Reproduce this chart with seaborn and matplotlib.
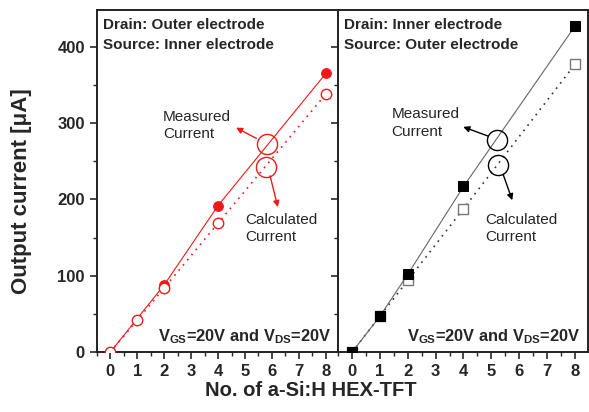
import matplotlib
matplotlib.use("Agg")
import matplotlib.pyplot as plt
import seaborn as sns
from matplotlib.ticker import MultipleLocator

sns.set_style("ticks")
plt.rcParams['font.family'] = ['Liberation Sans', 'DejaVu Sans']
plt.rcParams['mathtext.fontset'] = 'custom'
plt.rcParams['mathtext.rm'] = 'Liberation Sans:bold'
plt.rcParams['mathtext.bf'] = 'Liberation Sans:bold'
plt.rcParams['mathtext.it'] = 'Liberation Sans:bold'

# ---- data ----
left_meas_x = [0, 2, 4, 8]
left_meas_y = [0, 88, 192, 365]
left_calc_x = [0, 1, 2, 4, 8]
left_calc_y = [0, 42, 84, 169, 338]

right_meas_x = [0, 1, 2, 4, 8]
right_meas_y = [0, 47, 102, 217, 427]
right_calc_x = [0, 1, 2, 4, 8]
right_calc_y = [0, 47, 94, 188, 377]

x_ticks = [0, 1, 2, 3, 4, 5, 6, 7, 8]
y_ticks = [0, 100, 200, 300, 400]

titles_left = ["Drain: Outer electrode", "Source: Inner electrode"]
titles_right = ["Drain: Inner electrode", "Source: Outer electrode"]
bias_text = r"$\mathrm{V_{GS}}$=20V and $\mathrm{V_{DS}}$=20V"

W, H = 589, 412
fig = plt.figure(figsize=(W / 100, H / 100), dpi=100)
axL = fig.add_axes([96.7 / W, (H - 352.3) / H, 241.3 / W, 342.3 / H])
axR = fig.add_axes([338 / W, (H - 352.3) / H, 249.6 / W, 342.3 / H])

red = '#f01818'

# Left panel
sns.lineplot(x=left_meas_x, y=left_meas_y, ax=axL, color=red, lw=0.8,
             marker='o', markersize=7, markerfacecolor=red, markeredgecolor=red, zorder=3)
sns.lineplot(x=left_calc_x, y=left_calc_y, ax=axL, color=red, lw=1.2, linestyle=(0, (1, 3)),
             marker='o', markersize=7.5, markerfacecolor='white', markeredgecolor=red,
             markeredgewidth=1.0, zorder=4)

# Right panel
sns.lineplot(x=right_calc_x, y=right_calc_y, ax=axR, color='#333333', lw=1.2, linestyle=(0, (1, 3)),
             marker='s', markersize=6.5, markerfacecolor='white', markeredgecolor='#777777',
             markeredgewidth=1.0, zorder=3)
sns.lineplot(x=right_meas_x, y=right_meas_y, ax=axR, color='#666666', lw=0.8,
             marker='s', markersize=6.5, markerfacecolor='black', markeredgecolor='black', zorder=4)

for ax in (axL, axR):
    ax.set_xlim(-0.5, 8.45)
    ax.set_ylim(0, 448)
    ax.set_xticks(x_ticks)
    ax.set_yticks(y_ticks)
    ax.xaxis.set_minor_locator(MultipleLocator(0.5))
    ax.yaxis.set_minor_locator(MultipleLocator(50))
    ax.tick_params(which='major', direction='out', length=5, width=1.2, labelsize=12)
    ax.tick_params(which='minor', direction='out', length=3, width=1.0)
    for s in ax.spines.values():
        s.set_linewidth(1.4)
        s.set_color('#222222')
    for lab in ax.get_xticklabels() + ax.get_yticklabels():
        lab.set_fontweight('bold')
    ax.set_xlabel('')
    ax.set_ylabel('')

axR.tick_params(axis='y', labelleft=False)

# Header texts
for ax, tl in ((axL, titles_left), (axR, titles_right)):
    ax.text(0.025, 0.955, tl[0], transform=ax.transAxes, fontsize=11, fontweight='bold', va='center', ha='left')
    ax.text(0.025, 0.897, tl[1], transform=ax.transAxes, fontsize=11, fontweight='bold', va='center', ha='left')
    ax.text(0.97, 0.045, bias_text, transform=ax.transAxes, fontsize=11.8, fontweight='bold', va='center', ha='right')

# Annotation circles and arrows
def annotate(ax, col, mc, cc, m_from, m_to, c_from, c_to, mtxt, ctxt):
    ax.plot([mc[0]], [mc[1]], marker='o', markersize=14.5, markerfacecolor='none',
            markeredgecolor=col, markeredgewidth=1.0, linestyle='none', zorder=5)
    ax.plot([cc[0]], [cc[1]], marker='o', markersize=14.5, markerfacecolor='none',
            markeredgecolor=col, markeredgewidth=1.0, linestyle='none', zorder=5)
    ax.annotate('', xy=m_to, xytext=m_from,
                arrowprops=dict(arrowstyle='-|>', color=col, lw=1.0, mutation_scale=9, shrinkA=0, shrinkB=0))
    ax.annotate('', xy=c_to, xytext=c_from,
                arrowprops=dict(arrowstyle='-|>', color=col, lw=1.0, mutation_scale=9, shrinkA=0, shrinkB=0))
    ax.text(mtxt[0], mtxt[1], "Measured\nCurrent", fontsize=11, va='center', ha='left', linespacing=1.3)
    ax.text(ctxt[0], ctxt[1], "Calculated\nCurrent", fontsize=11, va='center', ha='left', linespacing=1.3)

annotate(axL, red, (5.8, 273), (5.78, 242.5), (5.42, 280), (4.67, 294),
         (5.93, 231), (6.22, 190), (1.96, 297), (5.0, 162))
annotate(axR, 'black', (5.21, 278), (5.24, 245), (4.88, 283), (3.99, 295),
         (5.42, 233), (5.75, 199), (1.41, 300), (4.78, 162))

fig.text(22 / W, 1 - 191 / H, "Output current [\u03bcA]", rotation=90, fontsize=16,
         fontweight='bold', ha='center', va='center')
fig.text(311 / W, 1 - 391 / H, "No. of a-Si:H HEX-TFT", fontsize=14.5,
         fontweight='bold', ha='center', va='center')

fig.savefig("out.png", dpi=100)
